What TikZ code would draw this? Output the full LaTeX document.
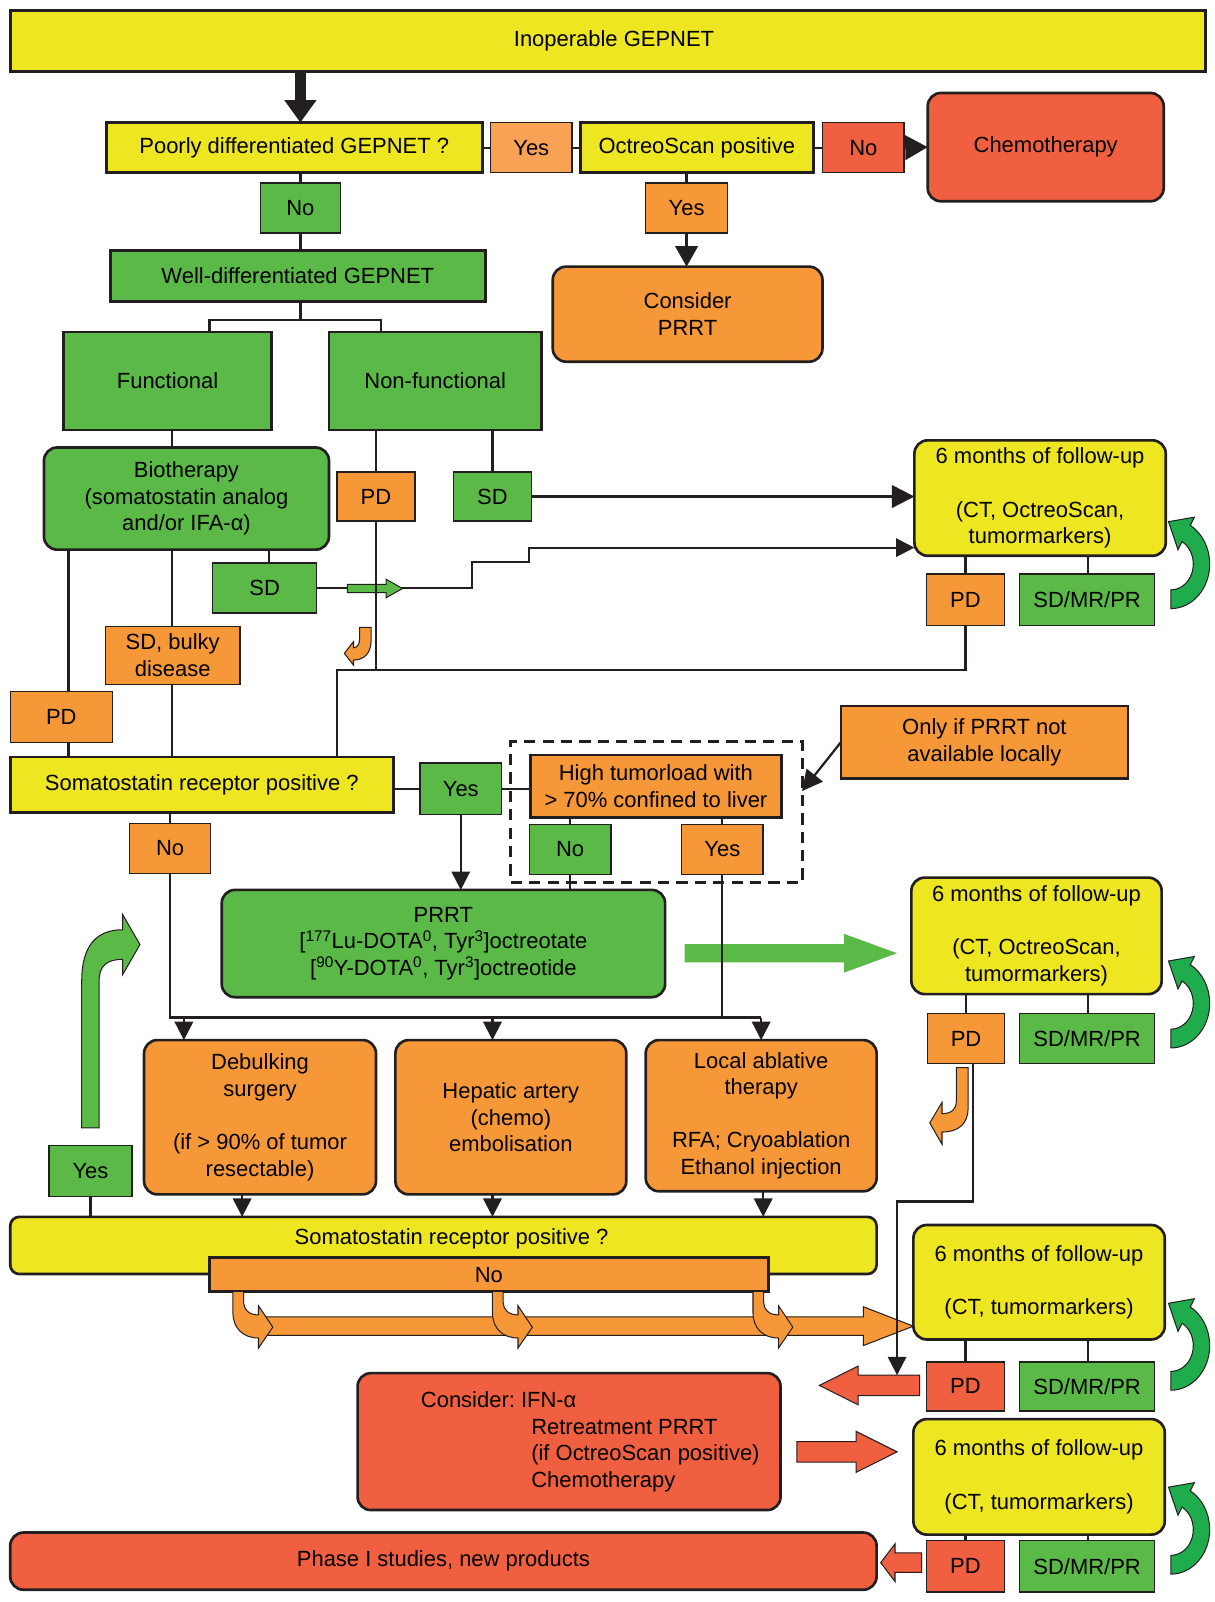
\documentclass[tikz,border=0pt]{standalone}
\usepackage{fontspec}
\setmainfont{Liberation Sans}
\frenchspacing
\usetikzlibrary{arrows.meta,calc,backgrounds}
\definecolor{yel}{RGB}{237,230,32}
\definecolor{grn}{RGB}{91,186,71}
\definecolor{org}{RGB}{247,152,56}
\definecolor{lorg}{RGB}{248,162,86}
\definecolor{rdd}{RGB}{240,95,64}
\definecolor{cgrn}{RGB}{30,172,76}
\definecolor{lnc}{RGB}{35,31,32}
\tikzset{
  basebox/.style={draw=lnc, inner sep=0pt, outer sep=0pt, align=center, text=black, font=\fontsize{21.5}{26}\selectfont},
  bigbox/.style={basebox, line width=2.6pt},
  smallbox/.style={basebox, line width=1.4pt},
  rbox/.style={bigbox, rounded corners=13pt},
  txtnode/.style={inner sep=0pt, outer sep=0pt, align=left, text=black, font=\fontsize{21.5}{26}\selectfont},
  lnk/.style={draw=lnc, line width=2.2pt},
  lnkarr/.style={lnk, -{Triangle[length=18pt,width=18pt]}},
  blockarr/.style={draw=lnc, line width=1pt, line join=miter},
}
\newcommand\bx[7]{%
  \pgfmathsetmacro\bxcx{(#2+#4)/2}%
  \pgfmathsetmacro\bxcy{(#3+#5)/2}%
  \pgfmathsetmacro\bxw{#4-#2}%
  \pgfmathsetmacro\bxh{#5-#3}%
  \node[#6, minimum width=\bxw pt, minimum height=\bxh pt] (#1) at (\bxcx,\bxcy) {#7};%
}
\newcommand\rcurl[1]{%
  \begin{scope}[shift={(1146,#1)}, yscale=1.15]
    \filldraw[fill=cgrn, draw=lnc, line width=1pt, line join=miter]
      (90:38) arc[start angle=90, end angle=-60, radius=38]
      -- (-60:46) -- (-2.3,-36) -- (-60:14) -- (-60:22)
      arc[start angle=-60, end angle=90, radius=22] -- cycle;
  \end{scope}}
\newcommand\ohook[1]{%
  \begin{scope}[xshift=#1]
    \filldraw[fill=org, blockarr] (228,1264) -- (228,1285) .. controls (228,1300) and (238,1309.6) .. (253,1309.6) -- (253,1319.4) -- (267,1299) -- (253,1278) -- (253,1287) .. controls (244,1287) and (238.5,1282) .. (238.5,1275) -- (238.5,1264) -- cycle;
  \end{scope}}
\begin{document}
\begin{tikzpicture}[x=1pt,y=-1pt]
\useasboundingbox (0,0) rectangle (1189,1568);

% ---------- boxes ----------
\bx{inop}{10}{10}{1180}{70}{bigbox,fill=yel}{\hspace*{12pt}Inoperable GEPNET}
\bx{poor}{104}{120}{472}{169}{bigbox,fill=yel}{Poorly differentiated GEPNET ?}
\bx{yes1}{480}{120}{560}{169}{smallbox,fill=lorg}{Yes}
\bx{oct}{568}{120}{796}{169}{bigbox,fill=yel}{OctreoScan positive}
\bx{no1}{805}{120}{885}{169}{smallbox,fill=rdd}{No}
\bx{chemo}{908}{91}{1139}{197}{rbox,fill=rdd}{Chemotherapy}
\bx{yes2}{632}{179}{712}{228}{smallbox,fill=org}{Yes}
\bx{cprrt}{541}{261}{805}{354}{rbox,fill=org}{Consider\\PRRT}
\bx{no2}{255}{179}{333}{228}{smallbox,fill=grn}{No}
\bx{wd}{108}{245}{475}{295}{bigbox,fill=grn}{Well-differentiated GEPNET}
\bx{func}{62}{325}{266}{421}{bigbox,fill=grn}{Functional}
\bx{nfunc}{322}{325}{530}{421}{bigbox,fill=grn}{Non-functional}
\bx{bio}{43}{438}{322}{538}{rbox,fill=grn}{Biotherapy\\(somatostatin analog\\and/or IFA-α)}
\bx{pdA}{330}{462}{406}{510}{smallbox,fill=org}{PD}
\bx{sdA}{444}{462}{520}{510}{smallbox,fill=grn}{SD}
\bx{fu1}{895}{431}{1141}{544}{rbox,fill=yel}{6 months of follow-up\\[26pt](CT, OctreoScan,\\tumormarkers)}
\bx{pdB}{907}{562}{983}{612}{smallbox,fill=org}{PD}
\bx{sdB}{998}{562}{1130}{612}{smallbox,fill=grn}{SD/MR/PR}
\bx{sdC}{208}{551}{310}{600}{smallbox,fill=grn}{SD}
\bx{bulky}{103}{613}{235}{670}{smallbox,fill=org}{SD, bulky\\disease}
\bx{pdC}{10}{677}{110}{727}{smallbox,fill=org}{PD}
\bx{sr1}{10}{741}{385}{795}{bigbox,fill=yel}{Somatostatin receptor positive ?}
\bx{yes3}{411}{747}{491}{797}{smallbox,fill=grn}{Yes}
\bx{high}{519}{739}{765}{800}{bigbox,fill=org}{High tumorload with\\> 70\% confined to liver}
\bx{only}{823}{691}{1104}{762}{bigbox,fill=org}{Only if PRRT not\\available locally}
\bx{no3}{518}{807}{598}{856}{smallbox,fill=grn}{No}
\bx{yes4}{667}{807}{747}{856}{smallbox,fill=org}{Yes}
\bx{dash}{500}{726}{785}{864}{draw=lnc, line width=3pt, dash pattern=on 11pt off 7pt, inner sep=0pt, outer sep=0pt}{}
\bx{no4}{127}{806}{206}{855}{smallbox,fill=org}{No}
\bx{prrt}{217}{871}{651}{976}{rbox,fill=grn}{PRRT\\{}[\textsuperscript{177}Lu-DOTA\textsuperscript{0}, Tyr\textsuperscript{3}]octreotate\\{}[\textsuperscript{90}Y-DOTA\textsuperscript{0}, Tyr\textsuperscript{3}]octreotide}
\bx{fu2}{892}{859}{1137}{973}{rbox,fill=yel}{6 months of follow-up\\[26pt](CT, OctreoScan,\\tumormarkers)}
\bx{pdD}{908}{992}{983}{1041}{smallbox,fill=org}{PD}
\bx{sdD}{998}{992}{1130}{1041}{smallbox,fill=grn}{SD/MR/PR}
\bx{deb}{141}{1018}{368}{1169}{rbox,fill=org}{Debulking\\surgery\\[26pt](if > 90\% of tumor\\resectable)}
\bx{hep}{387}{1018}{613}{1169}{rbox,fill=org}{Hepatic artery\\(chemo)\\embolisation}
\bx{loc}{632}{1018}{858}{1166}{rbox,fill=org}{Local ablative\\therapy\\[26pt]RFA; Cryoablation\\Ethanol injection}
\bx{yes5}{48}{1121}{129}{1171}{smallbox,fill=grn}{Yes}
\bx{sr2}{10}{1191}{858}{1247}{bigbox,rounded corners=9pt,fill=yel}{}
\node[txtnode] (sr2t) at (442,1213) {Somatostatin receptor positive ?};
\bx{no5}{205}{1231}{752}{1264}{bigbox,fill=org}{No}
\bx{fu3}{894}{1199}{1140}{1311}{rbox,fill=yel}{6 months of follow-up\\[26pt](CT, tumormarkers)}
\bx{pdE}{907}{1333}{983}{1381}{smallbox,fill=rdd}{PD}
\bx{sdE}{998}{1333}{1130}{1381}{smallbox,fill=grn}{SD/MR/PR}
\bx{cons}{350}{1344}{764}{1478}{rbox,fill=rdd}{}
\node[txtnode, anchor=west] (const) at (412,1411) {Consider: IFN-α\\\hspace*{108pt}Retreatment PRRT\\\hspace*{108pt}(if OctreoScan positive)\\\hspace*{108pt}Chemotherapy};
\bx{fu4}{894}{1389}{1140}{1502}{rbox,fill=yel}{6 months of follow-up\\[26pt](CT, tumormarkers)}
\bx{pdF}{907}{1508}{983}{1558}{smallbox,fill=rdd}{PD}
\bx{sdF}{998}{1508}{1130}{1558}{smallbox,fill=grn}{SD/MR/PR}
\bx{phase}{10}{1500}{858}{1556}{rbox,fill=rdd}{Phase I studies, new products}

% ---------- background: block arrows and connectors ----------
\begin{pgfonlayer}{background}
\fill[white] (0,0) rectangle (1189,1568);
\coordinate (s2) at (518,536);
\draw[lnkarr] (sdC.east) -| (462,550) -| (s2) -- (s2 -| fu1.west);
% block arrows
\fill[grn] (670,924) -- (826,924) -- (826,914) -- (878,933) -- (826,952) -- (826,942) -- (670,942) -- cycle;
\filldraw[fill=grn, blockarr] (340,572) -- (378,572) -- (378,567) -- (394,576) -- (378,585) -- (378,580) -- (340,580) -- cycle;
\filldraw[fill=org, blockarr] (250,1289) -- (845,1289) -- (845,1279) -- (894,1298) -- (845,1317) -- (845,1307) -- (250,1307) -- cycle;
\filldraw[fill=rdd, blockarr] (900,1346) -- (840,1346) -- (840,1337) -- (802,1356) -- (840,1375) -- (840,1366) -- (900,1366) -- cycle;
\filldraw[fill=rdd, blockarr] (780,1411) -- (838,1411) -- (838,1401) -- (878,1421) -- (838,1441) -- (838,1431) -- (780,1431) -- cycle;
\filldraw[fill=rdd, blockarr] (902,1520) -- (876,1520) -- (876,1511) -- (862,1529.5) -- (876,1548) -- (876,1539) -- (902,1539) -- cycle;
% connectors
\coordinate (ta) at ([xshift=6pt]poor.north);
\draw[draw=lnc, line width=11pt, -{Triangle[length=22pt,width=30pt]}] (ta |- inop.south) -- (ta);
\draw[lnk] (poor.east) -- (yes1.west) (yes1.east) -- (oct.west) (oct.east) -- (no1.west);
\draw[lnk, -{Triangle[length=22pt,width=24pt]}] (no1.east) -- (chemo.west);
\draw[lnk] (yes2.north |- oct.south) -- (yes2.north);
\draw[lnk, -{Triangle[length=20pt,width=22pt]}] (yes2.south) -- (yes2.south |- cprrt.north);
\draw[lnk] (no2.north |- poor.south) -- (no2.north) (no2.south) -- (no2.south |- wd.north);
\coordinate (jl) at (205,313); \coordinate (jr) at (373,313);
\draw[lnk] (no2.south |- wd.south) -- (no2.south |- jl);
\draw[lnk] (jl |- func.north) -- (jl) -- (jr) -- (jr |- nfunc.north);
\coordinate (xa) at (168,0); \coordinate (xb) at (67,0); \coordinate (xc) at (263,0);
\coordinate (xd) at (368,0); \coordinate (xe) at (482,0); \coordinate (jk) at (330,656);
\coordinate (xf) at (1065,0);
\draw[lnk] (xa |- func.south) -- (xa |- bio.north);
\draw[lnk] (xb |- bio.south) -- (xb |- pdC.north) (xb |- pdC.south) -- (xb |- sr1.north);
\draw[lnk] (xa |- bio.south) -- (xa |- bulky.north) (xa |- bulky.south) -- (xa |- sr1.north);
\draw[lnk] (xc |- bio.south) -- (xc |- sdC.north);
\draw[lnk] (xd |- nfunc.south) -- (xd |- pdA.north) (xd |- pdA.south) -- (xd |- jk);
\draw[lnk] (xe |- nfunc.south) -- (xe |- sdA.north);
\draw[lnk, -{Triangle[length=22pt,width=22pt]}] (sdA.east) -- (sdA.east -| fu1.west);
\draw[lnk] (pdB.north |- fu1.south) -- (pdB.north) (xf |- fu1.south) -- (xf |- sdB.north);
\draw[lnk] (pdB.south) -- (pdB.south |- jk) -- (jk) -- (jk |- sr1.north);
\draw[lnk] (sr1.east |- yes3.west) -- (yes3.west) (yes3.east) -- (yes3.east -| high.west);
\draw[lnkarr] (yes3.south) -- (yes3.south |- prrt.north);
\draw[lnk] (no3.north |- high.south) -- (no3.north) (no3.south) -- (no3.south |- prrt.north);
\draw[lnk] (yes4.north |- high.south) -- (yes4.north);
\coordinate (hy) at (0,996);
\draw[lnk] (yes4.south) -- (yes4.south |- hy);
\draw[lnk, -{Triangle[length=20pt,width=20pt]}] (only.west) -- ($(dash.north east)!0.35!(dash.south east)$);
\draw[lnk] (no4.north |- sr1.south) -- (no4.north);
\draw[lnk] (no4.south) |- (loc.north |- hy);
\coordinate (xg) at (180,0); \coordinate (xh) at (482,0);
\coordinate (xi) at (237,0); \coordinate (xj) at (747,0);
\draw[lnkarr] (xg |- hy) -- (xg |- deb.north);
\draw[lnkarr] (xh |- hy) -- (xh |- hep.north);
\draw[lnkarr] (loc.north |- hy) -- (loc.north);
\draw[lnkarr] (xi |- deb.south) -- (xi |- sr2.north);
\draw[lnkarr] (xh |- hep.south) -- (xh |- sr2.north);
\draw[lnkarr] (xj |- loc.south) -- (xj |- sr2.north);
\draw[lnk] (yes5.south) -- (yes5.south |- sr2.north);
\draw[lnk] (pdD.north |- fu2.south) -- (pdD.north) (xf |- fu2.south) -- (xf |- sdD.north);
\coordinate (k1) at (952,1176); \coordinate (k2) at (878,1176); \coordinate (k3) at (878,1346);
\draw[lnkarr] (k1 |- pdD.south) -- (k1) -- (k2) -- (k3);
\draw[lnk] (pdE.north |- fu3.south) -- (pdE.north) (xf |- fu3.south) -- (xf |- sdE.north);
\draw[lnk] (pdF.north |- fu4.south) -- (pdF.north) (xf |- fu4.south) -- (xf |- sdF.north);
\end{pgfonlayer}

% ---------- curved block arrows ----------
\rcurl{552}
\rcurl{982}
\rcurl{1317}
\rcurl{1497}
\ohook{0}
\ohook{254}
\ohook{509}
\filldraw[fill=org, blockarr] (352,614) -- (352,625) .. controls (352,630) and (350,634) .. (346,634) -- (346,628) -- (337,639.5) -- (346,651) -- (346,646) .. controls (356,646) and (363.3,640) .. (363.3,626) -- (363.3,614) -- cycle;
\filldraw[fill=org, blockarr] (936,1045) -- (936,1078) .. controls (936,1086) and (931,1090) .. (922,1090) -- (922,1079) -- (910,1099) -- (922,1120) -- (922,1108) .. controls (938,1108) and (947.5,1100) .. (947.5,1085) -- (947.5,1045) -- cycle;
\filldraw[fill=grn, blockarr] (80,1104) -- (80,960) .. controls (80,925) and (95,910) .. (120,910) -- (120,895) -- (137,924.5) -- (120,954) -- (120,939) .. controls (105,939) and (97,945) .. (97,960) -- (97,1104) -- cycle;
\end{tikzpicture}
\end{document}
